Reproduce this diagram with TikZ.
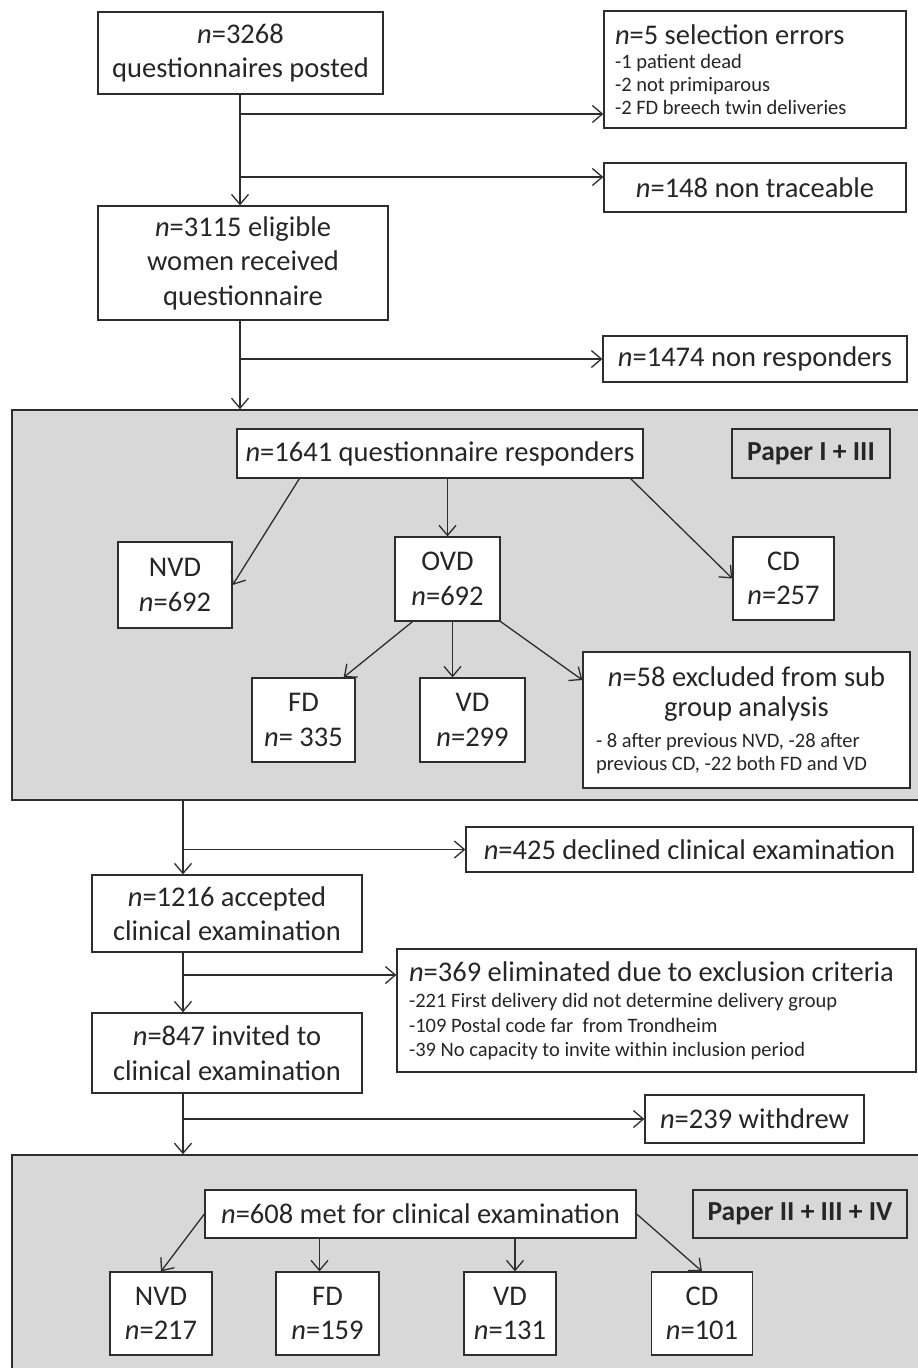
\documentclass[tikz,border=0pt]{standalone}
\usepackage{fontspec}
\setmainfont{Carlito}
\usetikzlibrary{arrows.meta}

\definecolor{panelgray}{RGB}{216,216,216}
\definecolor{linegray}{RGB}{45,45,45}
\newcommand{\bigline}{\fontsize{28.5}{30}\selectfont}
\newcommand{\smallline}{\fontsize{20.5}{23}\selectfont}

\begin{document}
\begin{tikzpicture}[x=1pt,y=-1pt,
    box/.style={draw=linegray, line width=1.3pt, fill=white, inner sep=0pt, align=center,
                text=black!85, font=\fontsize{28.5}{34.5}\selectfont},
    panel/.style={draw=linegray, line width=1.6pt, fill=panelgray, inner sep=0pt},
    papertag/.style={draw=linegray, line width=1.3pt, fill=panelgray, inner sep=0pt,
                text=black!85, font=\fontsize{27.5}{30}\selectfont\bfseries},
    arr/.style={draw=linegray, line width=1.3pt, -{Straight Barb[length=10pt,width=17pt]}},
]
    \useasboundingbox (0,0) rectangle (918,1368);

    % Spines and branch points
    \coordinate (s1) at (240,0);
    \coordinate (s2) at (183,0);
    \coordinate (b1) at (240,114);
    \coordinate (b2) at (240,177);
    \coordinate (b3) at (183,975);

    % Top part
    \node[box, minimum width=285pt, minimum height=82pt] (posted) at (240.5,53)
        {\textit{n}=3268\\ questionnaires posted};
    \node[box, minimum width=302pt, minimum height=117pt, text width=280pt, align=flush left] (selerr) at (755,69.5)
        {{\bigline\textit{n}=5 selection errors\par}\vspace{1pt}
         \smallline -1 patient dead\\ -2 not primiparous\\ -2 FD breech twin deliveries\par};
    \node[box, minimum width=302pt, minimum height=49pt] (nontrace) at (755,187.5)
        {\textit{n}=148 non traceable};
    \node[box, minimum width=290pt, minimum height=114pt] (eligible) at (243,263)
        {\textit{n}=3115 eligible\\ women received\\ questionnaire};
    \node[box, minimum width=304pt, minimum height=46pt] (nonresp) at (755,359)
        {\textit{n}=1474 non responders};

    % Paper I + III
    \node[panel, minimum width=913pt, minimum height=390pt] (panelA) at (468.5,605) {};
    \node[box, minimum width=406pt, minimum height=49pt] (resp) at (440,453.5)
        {\textit{n}=1641 questionnaire responders};
    \node[papertag, minimum width=158pt, minimum height=49pt] (paperA) at (811,453.5)
        {Paper I + III};
    \node[box, minimum width=114pt, minimum height=86pt] (nvdA) at (175,585) {NVD\\ \textit{n}=692};
    \node[box, minimum width=105pt, minimum height=84pt] (ovd) at (447.5,579) {OVD\\ \textit{n}=692};
    \node[box, minimum width=101pt, minimum height=83pt] (cdA) at (783.5,578.5) {CD\\ \textit{n}=257};
    \node[box, minimum width=103pt, minimum height=84pt] (fdA) at (303.5,720) {FD\\ \textit{n}= 335};
    \node[box, minimum width=105pt, minimum height=84pt] (vdA) at (472.5,720) {VD\\ \textit{n}=299};
    \node[box, minimum width=327pt, minimum height=136pt, text width=301pt, align=flush left] (excl) at (746.5,720)
        {{\centering\bigline\textit{n}=58 excluded from sub\\ group analysis\par}\vspace{8pt}
         \smallline - 8 after previous NVD, -28 after\\ previous CD, -22 both FD and VD\par};

    \draw[arr] ([xshift=63pt]resp.south west) -- (nvdA.east);
    \draw[arr] (ovd.north |- resp.south) -- (ovd.north);
    \draw[arr] ([xshift=-13pt]resp.south east) -- (cdA.west);
    \draw[arr] ([xshift=-35pt]ovd.south) -- ([xshift=-12pt]fdA.north east);
    \draw[arr] ([xshift=5pt]ovd.south) -- ([xshift=5pt]ovd.south |- vdA.north);
    \draw[arr] (ovd.south east) -- ([yshift=40pt]excl.west);

    % Middle part
    \node[box, minimum width=447pt, minimum height=45pt] (declined) at (689.5,849.5)
        {\textit{n}=425 declined clinical examination};
    \node[box, minimum width=270pt, minimum height=77pt] (accepted) at (227,913.5)
        {\textit{n}=1216 accepted\\ clinical examination};
    \node[box, minimum width=519pt, minimum height=123pt, text width=495pt, align=flush left] (elim) at (656.5,1010.5)
        {{\bigline\textit{n}=369 eliminated due to exclusion criteria\par}\vspace{2pt}
         \smallline\baselineskip=24.5pt -221 First delivery did not determine delivery group\\
         -109 Postal code far\ \ from Trondheim\\
         -39 No capacity to invite within inclusion period\par};
    \node[box, minimum width=270pt, minimum height=80pt] (invited) at (227,1053)
        {\textit{n}=847 invited to\\ clinical examination};
    \node[box, minimum width=219pt, minimum height=48pt] (withdrew) at (754.5,1119)
        {\textit{n}=239 withdrew};

    % Paper II + III + IV
    \node[panel, minimum width=913pt, minimum height=230pt] (panelB) at (468.5,1270) {};
    \node[box, minimum width=431pt, minimum height=48pt] (met) at (420.5,1214)
        {\textit{n}=608 met for clinical examination};
    \node[papertag, minimum width=214pt, minimum height=48pt] (paperB) at (800,1214)
        {Paper II + III + IV};
    \node[box, minimum width=102pt, minimum height=83pt] (nvdB) at (161,1313.5) {NVD\\ \textit{n}=217};
    \node[box, minimum width=103pt, minimum height=83pt] (fdB) at (327.5,1313.5) {FD\\ \textit{n}=159};
    \node[box, minimum width=92pt, minimum height=83pt] (vdB) at (510,1313.5) {VD\\ \textit{n}=131};
    \node[box, minimum width=101pt, minimum height=83pt] (cdB) at (702,1313.5) {CD\\ \textit{n}=101};

    \draw[arr] (met.west) -- (nvdB.north);
    \draw[arr] ([xshift=-8pt]fdB.north |- met.south) -- ([xshift=-8pt]fdB.north);
    \draw[arr] ([xshift=5pt]vdB.north |- met.south) -- ([xshift=5pt]vdB.north);
    \draw[arr] (met.east) -- (cdB.north);

    % Flow between boxes
    \draw[arr] (posted.south -| s1) -- (eligible.north -| s1);
    \draw[arr] (b1) -- (b1 -| selerr.west);
    \draw[arr] (b2) -- (b2 -| nontrace.west);
    \draw[arr] (eligible.south -| s1) -- (panelA.north -| s1);
    \draw[arr] (s1 |- nonresp.west) -- (nonresp.west);
    \draw[arr] (panelA.south -| s2) -- (accepted.north -| s2);
    \draw[arr] (s2 |- declined.west) -- (declined.west);
    \draw[arr] (accepted.south -| s2) -- (invited.north -| s2);
    \draw[arr] (b3) -- (b3 -| elim.west);
    \draw[arr] (invited.south -| s2) -- (panelB.north -| s2);
    \draw[arr] (s2 |- withdrew.west) -- (withdrew.west);
\end{tikzpicture}
\end{document}
